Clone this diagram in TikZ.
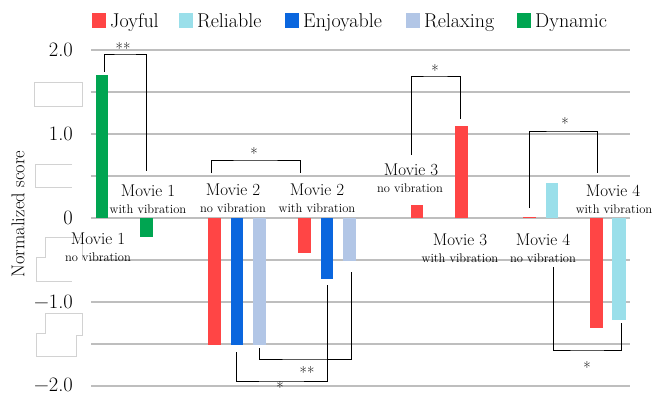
\documentclass[tikz,border=0pt]{standalone}
\usepackage{fontspec}
\definecolor{cjoy}{HTML}{FF4545}
\definecolor{crel}{HTML}{9ADFEA}
\definecolor{cenj}{HTML}{0A66DE}
\definecolor{crlx}{HTML}{B2C6E6}
\definecolor{cdyn}{HTML}{00A551}
\definecolor{cgrid}{HTML}{BEBEBE}
\definecolor{cghost}{HTML}{D2D2D2}
\tikzset{
  gridln/.style={draw=cgrid,line width=1.3pt},
  brk/.style={draw=black,line width=1pt},
  ghost/.style={draw=cghost,line width=0.7pt},
  mlab/.style={font=\fontsize{17}{17}\selectfont,anchor=base,inner sep=0pt},
  slab/.style={font=\fontsize{12.5}{12.5}\selectfont,anchor=base,inner sep=0pt},
  tick/.style={font=\fontsize{20.5}{20.5}\selectfont,anchor=east,inner sep=0pt},
  leg/.style={font=\fontsize{20}{20}\selectfont,anchor=base west,inner sep=0pt},
  star/.style={font=\fontsize{16}{16}\selectfont,anchor=base,inner sep=0pt},
}
\begin{document}
\begin{tikzpicture}[x=1pt,y=-1pt]
\useasboundingbox (0,0) rectangle (653,396);
% gridlines
\foreach \yy in {50,92,134,176,218,260,302,344,386}
  \draw[gridln] (91,\yy) -- (630,\yy);
% ghost outlines of erased labels
\draw[ghost] (34,82) rectangle (82,106);
\draw[ghost] (72,164) -- (35,164) -- (35,187) -- (72,187);
\draw[ghost] (82,260) -- (82,237) -- (45,237) -- (45,257) -- (36,257) -- (36,281) -- (72,281);
\draw[ghost] (45,313) -- (82,313) -- (82,335) -- (76,335) -- (76,356) -- (36,356) -- (36,333) -- (45,333) -- cycle;
% tick labels
\node[tick] (t2) at (73,50) {2.0};
\node[tick] (t1) at (73,134) {1.0};
\node[tick] (t0) at (73,218) {0};
\node[tick] (tm1) at (73,302) {−1.0};
\node[tick] (tm2) at (73,385) {−2.0};
% axis title
\node[font=\fontsize{18.5}{18.5}\selectfont,rotate=90,inner sep=0pt] (ytitle) at (18,214) {Normalized score};
% legend
\fill[cjoy] (92,13) rectangle (106,28);
\node[leg] (lj) at (110,28) {Joyful};
\fill[crel] (179,13) rectangle (193,28);
\node[leg] (lr) at (197,28) {Reliable};
\fill[cenj] (285,13) rectangle (299,28);
\node[leg] (le) at (303,28) {Enjoyable};
\fill[crlx] (406,13) rectangle (420,28);
\node[leg] (lx) at (424,28) {Relaxing};
\fill[cdyn] (517,13) rectangle (531,28);
\node[leg] (ld) at (535,28) {Dynamic};
% bars
\fill[cdyn] (96,75) rectangle (108,218);
\fill[cdyn] (140,218) rectangle (153,237);
\fill[cjoy] (208,218) rectangle (221,345);
\fill[cenj] (231,218) rectangle (243,345);
\fill[crlx] (253,218) rectangle (266,345);
\fill[cjoy] (298,218) rectangle (311,253);
\fill[cenj] (321,218) rectangle (333,279);
\fill[crlx] (343,218) rectangle (356,261);
\fill[cjoy] (411,205) rectangle (423,218);
\fill[cjoy] (455,126) rectangle (468,218);
\fill[cjoy] (523,216.5) rectangle (536,218);
\fill[crel] (546,183) rectangle (558,218);
\fill[cjoy] (590,218) rectangle (603,328);
\fill[crel] (612,218) rectangle (626,320);
% movie labels
\node[mlab] (m1w) at (148,196) {Movie 1};
\node[slab] (m1ws) at (148,213) {with vibration};
\node[mlab] (m1n) at (98,244) {Movie 1};
\node[slab] (m1ns) at (98,261) {no vibration};
\node[mlab] (m2n) at (233,195) {Movie 2};
\node[slab] (m2ns) at (233,212) {no vibration};
\node[mlab] (m2w) at (317,195) {Movie 2};
\node[slab] (m2ws) at (317,212) {with vibration};
\node[mlab] (m3n) at (411,175) {Movie 3};
\node[slab] (m3ns) at (410,192) {no vibration};
\node[mlab] (m3w) at (460,245) {Movie 3};
\node[slab] (m3ws) at (460,262) {with vibration};
\node[mlab] (m4n) at (543,245) {Movie 4};
\node[slab] (m4ns) at (543,262) {no vibration};
\node[mlab] (m4w) at (613,196) {Movie 4};
\node[slab] (m4ws) at (614,213) {with vibration};
% brackets
\coordinate (b1a) at (104,72); \coordinate (b1c) at (125,55); \coordinate (b1b) at (146,171);
\draw[brk] (b1a) |- (b1c) -| (b1b);
\node[star] (s1) at (123,54.5) {**};
\coordinate (b2a) at (211,173); \coordinate (b2c) at (255,160); \coordinate (b2b) at (300,173);
\draw[brk] (b2a) |- (b2c) -| (b2b);
\node[star] (s2) at (254,159.5) {*};
\coordinate (b3a) at (259,348); \coordinate (b3c) at (305,359); \coordinate (b3b) at (351,272);
\draw[brk] (b3a) |- (b3c) -| (b3b);
\node[star] (s3) at (307,378.5) {**};
\coordinate (b4a) at (236,352); \coordinate (b4c) at (281,381); \coordinate (b4b) at (327,285);
\draw[brk] (b4a) |- (b4c) -| (b4b);
\node[star] (s4) at (280,393) {*};
\coordinate (b5a) at (411,155); \coordinate (b5c) at (435,76); \coordinate (b5b) at (460,119);
\draw[brk] (b5a) |- (b5c) -| (b5b);
\node[star] (s5) at (435,76.5) {*};
\coordinate (b6a) at (529,208); \coordinate (b6c) at (563,131); \coordinate (b6b) at (597,173);
\draw[brk] (b6a) |- (b6c) -| (b6b);
\node[star] (s6) at (565,129.5) {*};
\coordinate (b7a) at (553,267); \coordinate (b7c) at (587,350); \coordinate (b7b) at (621,323);
\draw[brk] (b7a) |- (b7c) -| (b7b);
\node[star] (s7) at (587,373.5) {*};
\end{tikzpicture}
\end{document}
